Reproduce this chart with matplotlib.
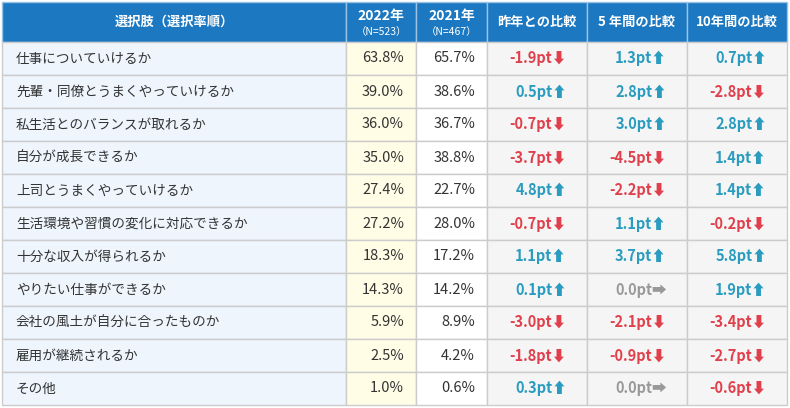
import matplotlib
matplotlib.use("Agg")
import matplotlib.pyplot as plt
from matplotlib.patches import Rectangle

categories = ["仕事についていけるか", "先輩・同僚とうまくやっていけるか", "私生活とのバランスが取れるか",
              "自分が成長できるか", "上司とうまくやっていけるか", "生活環境や習慣の変化に対応できるか",
              "十分な収入が得られるか", "やりたい仕事ができるか", "会社の風土が自分に合ったものか",
              "雇用が継続されるか", "その他"]
rate_2022 = [63.8, 39.0, 36.0, 35.0, 27.4, 27.2, 18.3, 14.3, 5.9, 2.5, 1.0]
rate_2021 = [65.7, 38.6, 36.7, 38.8, 22.7, 28.0, 17.2, 14.2, 8.9, 4.2, 0.6]
diff_1y = [-1.9, 0.5, -0.7, -3.7, 4.8, -0.7, 1.1, 0.1, -3.0, -1.8, 0.3]
diff_5y = [1.3, 2.8, 3.0, -4.5, -2.2, 1.1, 3.7, 0.0, -2.1, -0.9, 0.0]
diff_10y = [0.7, -2.8, 2.8, 1.4, 1.4, -0.2, 5.8, 1.9, -3.4, -2.7, -0.6]
headers = ["選択肢（選択率順）", "2022年", "2021年", "昨年との比較", "5 年間の比較", "10年間の比較"]
sub_headers = ["", "（N=523）", "（N=467）", "", "", ""]

JP = ["Noto Sans CJK JP", "DejaVu Sans"]
col_x = [2, 346, 416, 487, 587, 687, 787]
header_top, header_h, row_h = 2, 40, 33
bgs = ["#eef5fd", "#fffde6", "#ffffff", "#f5f5f5", "#f5f5f5", "#f5f5f5"]
grid = "#cccccc"

fig = plt.figure(figsize=(7.9, 4.08), dpi=100)
ax = fig.add_axes([0, 0, 1, 1])
ax.set_xlim(0, 790)
ax.set_ylim(408, 0)
ax.axis("off")

for c in range(6):
    x0, x1 = col_x[c], col_x[c + 1]
    ax.add_patch(Rectangle((x0, header_top), x1 - x0, header_h, facecolor="#1b78c1",
                           edgecolor="#9cc3e6", lw=1))
    cx = (x0 + x1) / 2
    if sub_headers[c]:
        ax.text(cx, header_top + 14, headers[c], color="white", fontsize=10, fontweight="bold",
                ha="center", va="center", family=JP)
        ax.text(cx, header_top + 30, sub_headers[c], color="white", fontsize=7.5,
                ha="center", va="center", family=JP)
    else:
        ax.text(cx, header_top + header_h / 2, headers[c], color="white", fontsize=9.5,
                fontweight="bold", ha="center", va="center", family=JP)

def fmt_diff(v):
    if v > 0:
        return f"{v:.1f}pt⬆", "#2a9cbf"
    if v < 0:
        return f"{v:.1f}pt⬇", "#e0404c"
    return f"{v:.1f}pt➡", "#999999"

for r, cat in enumerate(categories):
    y0 = header_top + header_h + r * row_h
    yc = y0 + row_h / 2
    for c in range(6):
        x0, x1 = col_x[c], col_x[c + 1]
        ax.add_patch(Rectangle((x0, y0), x1 - x0, row_h, facecolor=bgs[c], edgecolor=grid, lw=1))
    ax.text(col_x[0] + 14, yc, cat, fontsize=9.8, color="#333333", ha="left", va="center", family=JP)
    ax.text(col_x[2] - 12, yc, f"{rate_2022[r]:.1f}%", fontsize=10.5, color="#333333", ha="right", va="center", family=JP)
    ax.text(col_x[3] - 12, yc, f"{rate_2021[r]:.1f}%", fontsize=10.5, color="#333333", ha="right", va="center", family=JP)
    for c, vals in zip([3, 4, 5], [diff_1y, diff_5y, diff_10y]):
        s, col = fmt_diff(vals[r])
        ax.text(col_x[c + 1] - 20, yc, s, fontsize=10.5, color=col, fontweight="bold",
                ha="right", va="center", family=JP)

fig.savefig("out.png", dpi=100, facecolor="white")
